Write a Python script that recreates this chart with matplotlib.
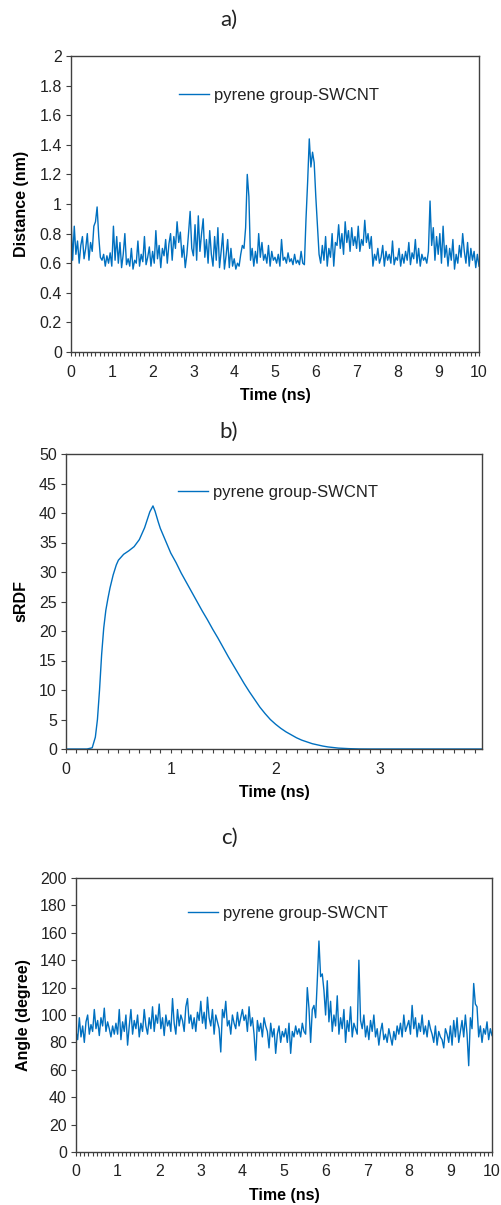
import numpy as np
import matplotlib
matplotlib.use("Agg")
import matplotlib.pyplot as plt
from matplotlib.ticker import MultipleLocator, FuncFormatter

plt.rcParams['font.family'] = ['Liberation Sans', 'DejaVu Sans']

# ---------------- data ----------------
time_a = np.arange(0, 251) * 0.04  # ns
distance_nm = [
    0.90, 0.62, 0.85, 0.66, 0.75, 0.60, 0.72, 0.78, 0.63, 0.70, 0.80, 0.62, 0.74, 0.68, 0.85, 0.88, 0.98, 0.78, 0.64, 0.62, 0.66, 0.58, 0.65, 0.60, 0.67,
    0.58, 0.85, 0.62, 0.78, 0.60, 0.74, 0.57, 0.66, 0.80, 0.59, 0.63, 0.58, 0.70, 0.56, 0.62, 0.60, 0.75, 0.58, 0.66, 0.61, 0.78, 0.59, 0.64, 0.71, 0.58,
    0.68, 0.60, 0.82, 0.63, 0.72, 0.57, 0.70, 0.65, 0.76, 0.60, 0.73, 0.80, 0.62, 0.78, 0.70, 0.88, 0.74, 0.81, 0.64, 0.72, 0.57, 0.66, 0.80, 0.95, 0.70,
    0.65, 0.86, 0.62, 0.92, 0.68, 0.80, 0.90, 0.64, 0.76, 0.60, 0.82, 0.66, 0.58, 0.78, 0.62, 0.84, 0.57, 0.68, 0.80, 0.56, 0.65, 0.76, 0.57, 0.70, 0.58,
    0.63, 0.56, 0.60, 0.58, 0.66, 0.72, 0.70, 0.84, 1.20, 1.05, 0.62, 0.70, 0.58, 0.68, 0.60, 0.80, 0.64, 0.74, 0.62, 0.66, 0.60, 0.72, 0.58, 0.68, 0.62,
    0.64, 0.60, 0.66, 0.58, 0.76, 0.62, 0.64, 0.60, 0.67, 0.61, 0.63, 0.59, 0.66, 0.60, 0.62, 0.59, 0.68, 0.60, 0.59, 0.90, 1.15, 1.44, 1.25, 1.35, 1.28,
    1.05, 0.85, 0.66, 0.60, 0.72, 0.62, 0.78, 0.58, 0.70, 0.64, 0.80, 0.58, 0.74, 0.72, 0.86, 0.70, 0.80, 0.66, 0.88, 0.74, 0.82, 0.68, 0.84, 0.72, 0.78,
    0.70, 0.85, 0.68, 0.76, 0.72, 0.89, 0.74, 0.80, 0.70, 0.78, 0.58, 0.66, 0.62, 0.70, 0.60, 0.64, 0.72, 0.58, 0.68, 0.62, 0.66, 0.60, 0.75, 0.59, 0.64,
    0.62, 0.70, 0.58, 0.66, 0.60, 0.68, 0.62, 0.74, 0.59, 0.67, 0.63, 0.76, 0.60, 0.70, 0.58, 0.66, 0.62, 0.64, 0.60, 0.68, 1.02, 0.72, 0.84, 0.62, 0.78,
    0.66, 0.80, 0.60, 0.85, 0.64, 0.72, 0.58, 0.70, 0.62, 0.76, 0.56, 0.66, 0.60, 0.72, 0.64, 0.80, 0.68, 0.60, 0.74, 0.58, 0.70, 0.62, 0.68, 0.57, 0.66,
    0.58,
]

time_b = [0.00, 0.05, 0.10, 0.15, 0.20, 0.25, 0.28, 0.30, 0.32, 0.34, 0.36, 0.38, 0.40, 0.42, 0.45, 0.48,
          0.50, 0.55, 0.60, 0.65, 0.70, 0.75, 0.80, 0.83, 0.85, 0.88, 0.90, 0.95,
          1.00, 1.05, 1.10, 1.15, 1.20, 1.25, 1.30, 1.35, 1.40, 1.45, 1.50, 1.55, 1.60, 1.65, 1.70, 1.75,
          1.80, 1.85, 1.90, 1.95, 2.00, 2.05, 2.10, 2.15, 2.20, 2.25, 2.30, 2.35, 2.40, 2.45, 2.50, 2.55,
          2.60, 2.70, 2.80, 2.90, 3.00, 3.50, 3.97]
srdf = [0, 0, 0, 0, 0, 0.2, 2.0, 5.0, 10.0, 16.0, 20.5, 23.5, 25.5, 27.3, 29.5, 31.2,
        32.0, 33.0, 33.6, 34.3, 35.5, 37.5, 40.2, 41.2, 40.3, 38.5, 37.4, 35.3,
        33.2, 31.6, 29.8, 28.2, 26.6, 25.0, 23.4, 21.9, 20.3, 18.8, 17.2, 15.6, 14.1, 12.6, 11.1, 9.7,
        8.4, 7.1, 6.0, 5.0, 4.2, 3.5, 2.9, 2.4, 1.9, 1.5, 1.2, 0.9, 0.7, 0.5, 0.35, 0.25,
        0.15, 0.06, 0.01, 0, 0, 0, 0]

time_c = np.arange(0, 251) * 0.04  # ns
angle_deg = [
    88, 82, 98, 84, 92, 80, 95, 100, 86, 93, 88, 104, 90, 96, 85, 98, 92, 105, 88, 95, 90, 84, 92, 86, 94,
    86, 104, 82, 95, 88, 100, 78, 92, 104, 86, 96, 90, 100, 84, 94, 88, 104, 92, 86, 98, 90, 106, 88, 100, 94,
    108, 90, 98, 85, 100, 92, 96, 88, 112, 94, 86, 104, 92, 100, 96, 88, 106, 112, 94, 100, 90, 98, 88, 102, 96,
    110, 94, 102, 90, 113, 98, 92, 104, 86, 100, 95, 90, 73, 104, 98, 110, 92, 96, 86, 100, 94, 90, 102, 92, 98,
    104, 96, 100, 88, 106, 92, 98, 86, 67, 96, 88, 94, 84, 98, 92, 88, 76, 94, 84, 90, 72, 86, 92, 80, 88,
    84, 90, 80, 94, 72, 88, 84, 92, 86, 90, 84, 94, 88, 86, 120, 105, 80, 104, 107, 98, 125, 154, 128, 130, 118,
    100, 125, 95, 110, 88, 100, 92, 114, 86, 98, 90, 104, 80, 96, 88, 106, 84, 94, 90, 86, 140, 96, 90, 100, 84,
    92, 82, 96, 88, 100, 84, 90, 78, 88, 94, 82, 86, 80, 90, 84, 78, 88, 82, 92, 86, 94, 84, 100, 88, 92,
    96, 86, 107, 90, 98, 84, 94, 88, 100, 86, 92, 84, 96, 90, 86, 80, 92, 78, 88, 84, 82, 76, 90, 86, 80,
    92, 78, 96, 84, 98, 80, 88, 96, 84, 100, 86, 63, 98, 90, 123, 108, 106, 84, 92, 80, 90, 86, 95, 82, 90,
    85,
]

series_label = "pyrene group-SWCNT"
panel_titles = ["a)", "b)", "c)"]

# ---------------- style ----------------
W, H = 502, 1205
fig = plt.figure(figsize=(W / 100, H / 100), dpi=100)
LINE = '#0070C0'
SPINE = '#404040'
TXT = '#222222'
TICKFS = 11.5
LABFS = 11.5


def ax_at(l, t, r, b):
    return fig.add_axes([l / W, 1 - b / H, (r - l) / W, (b - t) / H])


def style(ax):
    for s in ax.spines.values():
        s.set_color(SPINE)
        s.set_linewidth(1.0)
    ax.tick_params(axis='both', which='both', direction='out', color=SPINE,
                   labelsize=TICKFS, labelcolor=TXT, width=0.8)
    ax.tick_params(axis='y', which='major', length=3.5, pad=3)
    ax.tick_params(axis='x', which='major', length=3, pad=6)
    ax.tick_params(axis='x', which='minor', length=3)
    ax.tick_params(axis='y', which='minor', length=0)
    ax.yaxis.set_major_formatter(FuncFormatter(lambda v, p: f"{v:g}"))


def legend(ax, x, y):
    ax.legend(loc='center left', bbox_to_anchor=(x, y), frameon=False,
              fontsize=12, handlelength=1.8, handletextpad=0.3,
              borderpad=0, borderaxespad=0, labelcolor=TXT)


# panel a
axa = ax_at(71, 56, 479, 352)
axa.plot(time_a, distance_nm, color=LINE, lw=1.0, label=series_label)
axa.set_xlim(0, 10)
axa.set_ylim(0, 2)
axa.xaxis.set_major_locator(MultipleLocator(1))
axa.xaxis.set_minor_locator(MultipleLocator(0.1))
axa.yaxis.set_major_locator(MultipleLocator(0.2))
axa.set_xlabel("Time (ns)", fontsize=LABFS, fontweight='bold', labelpad=6)
axa.set_ylabel("Distance (nm)", fontsize=LABFS, fontweight='bold', labelpad=7.5)
style(axa)
legend(axa, 0.265, 0.868)

# panel b
axb = ax_at(66, 454, 482, 749)
axb.plot(time_b, srdf, color=LINE, lw=1.0, label=series_label)
axb.set_xlim(0, 3.97)
axb.set_ylim(0, 50)
axb.xaxis.set_major_locator(MultipleLocator(1))
axb.xaxis.set_minor_locator(MultipleLocator(0.1))
axb.yaxis.set_major_locator(MultipleLocator(5))
axb.set_xlabel("Time (ns)", fontsize=LABFS, fontweight='bold', labelpad=6)
axb.set_ylabel("sRDF", fontsize=LABFS, fontweight='bold', labelpad=8)
style(axb)
legend(axb, 0.27, 0.871)

# panel c
axc = ax_at(76, 878, 492, 1152)
axc.plot(time_c, angle_deg, color=LINE, lw=1.0, label=series_label)
axc.set_xlim(0, 10)
axc.set_ylim(0, 200)
axc.xaxis.set_major_locator(MultipleLocator(1))
axc.xaxis.set_minor_locator(MultipleLocator(0.1))
axc.yaxis.set_major_locator(MultipleLocator(20))
axc.set_xlabel("Time (ns)", fontsize=LABFS, fontweight='bold', labelpad=6)
axc.set_ylabel("Angle (degree)", fontsize=LABFS, fontweight='bold', labelpad=7)
style(axc)
legend(axc, 0.27, 0.872)

# panel titles
for title, ypix in zip(panel_titles, [20, 432, 838]):
    fig.text(229 / W, 1 - ypix / H, title, ha='center', va='center',
             fontsize=16, family=['Lato', 'DejaVu Sans'], color=TXT)

fig.savefig("out.png", dpi=100, facecolor='white')
